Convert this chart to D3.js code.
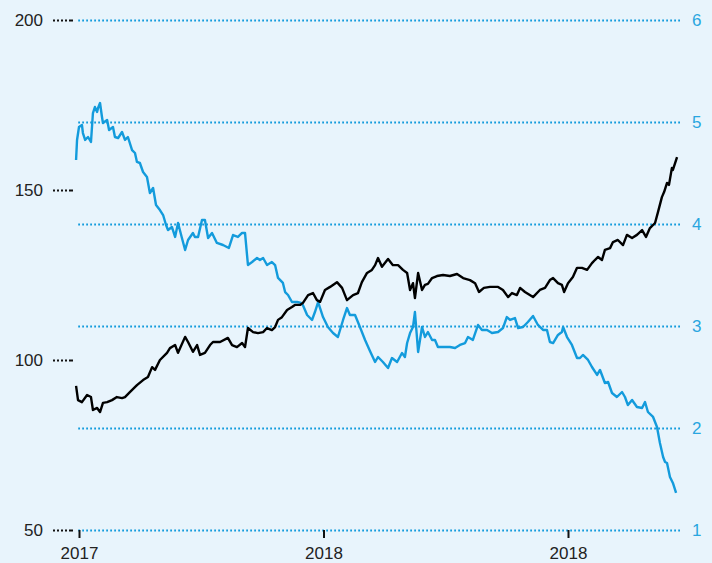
<!DOCTYPE html>
<html>
<head>
<meta charset="utf-8">
<script src="https://cdn.jsdelivr.net/npm/d3@7"></script>
<style>
  html, body { margin: 0; padding: 0; background: #e8f4fc; }
  svg { display: block; font-family: "Noto Sans", sans-serif; }
</style>
</head>
<body>
<svg id="chart" width="712" height="563"></svg>
<script>
// left axis (black series)
const leftTicks = [50, 100, 150, 200];
// right axis (blue series)
const rightTicks = [1, 2, 3, 4, 5, 6];
const xTickValues = [2017, 2018, 2019];
const xTickLabels = ["2017", "2018", "2018"];

// [decimal year, value]
const blackSeries = [
  [2016.988, 92.4], [2016.996, 88.2], [2017.012, 87.6], [2017.033, 89.7], [2017.049, 89.1],
  [2017.057, 85.3], [2017.074, 85.9], [2017.086, 84.7], [2017.098, 87.4], [2017.115, 87.6],
  [2017.135, 88.2], [2017.155, 89.1], [2017.176, 88.8], [2017.188, 89.1], [2017.209, 90.6],
  [2017.237, 92.6], [2017.262, 94.1], [2017.282, 95.0], [2017.299, 97.9], [2017.311, 97.1],
  [2017.331, 100.0], [2017.360, 102.1], [2017.372, 103.5], [2017.393, 104.4], [2017.405, 102.1],
  [2017.434, 106.8], [2017.446, 105.3], [2017.466, 102.4], [2017.483, 104.4], [2017.495, 101.5],
  [2017.515, 102.1], [2017.536, 104.4], [2017.548, 105.3], [2017.577, 105.3], [2017.609, 106.5],
  [2017.626, 104.4], [2017.646, 103.8], [2017.667, 105.0], [2017.679, 103.8], [2017.691, 109.4],
  [2017.712, 108.2], [2017.732, 107.9], [2017.753, 108.2], [2017.769, 109.4], [2017.789, 108.8],
  [2017.802, 109.7], [2017.814, 111.8], [2017.830, 112.6], [2017.851, 114.7], [2017.871, 115.6],
  [2017.883, 116.2], [2017.904, 116.2], [2017.916, 116.8], [2017.937, 119.1], [2017.957, 119.7],
  [2017.973, 117.6], [2017.986, 117.1], [2018.006, 120.6], [2018.027, 121.5], [2018.055, 122.9],
  [2018.076, 121.2], [2018.096, 117.6], [2018.121, 119.1], [2018.141, 119.7], [2018.157, 122.9],
  [2018.178, 125.6], [2018.198, 126.5], [2018.211, 127.9], [2018.223, 130.0], [2018.239, 127.4],
  [2018.264, 129.7], [2018.284, 127.9], [2018.305, 127.9], [2018.325, 126.5], [2018.342, 125.6],
  [2018.354, 120.6], [2018.366, 122.6], [2018.374, 118.2], [2018.387, 125.6], [2018.403, 120.6],
  [2018.415, 122.1], [2018.427, 122.4], [2018.444, 124.1], [2018.464, 124.7], [2018.489, 125.0],
  [2018.517, 124.7], [2018.546, 125.3], [2018.571, 124.1], [2018.599, 123.5], [2018.620, 122.6],
  [2018.636, 120.0], [2018.656, 121.2], [2018.681, 121.5], [2018.714, 121.5], [2018.734, 120.6],
  [2018.755, 118.5], [2018.771, 119.7], [2018.791, 119.1], [2018.804, 121.2], [2018.824, 120.0],
  [2018.857, 118.5], [2018.885, 120.6], [2018.906, 121.2], [2018.926, 123.5], [2018.939, 124.1],
  [2018.959, 122.6], [2018.975, 122.1], [2018.984, 120.0], [2019.000, 122.6], [2019.020, 124.4],
  [2019.037, 127.1], [2019.057, 127.1], [2019.078, 126.5], [2019.098, 128.5], [2019.110, 129.4],
  [2019.123, 130.3], [2019.139, 129.4], [2019.151, 132.4], [2019.172, 132.9], [2019.184, 134.7],
  [2019.204, 135.3], [2019.225, 133.8], [2019.241, 136.8], [2019.262, 135.9], [2019.282, 136.8],
  [2019.303, 138.2], [2019.319, 136.2], [2019.335, 138.8], [2019.356, 140.3], [2019.368, 143.5],
  [2019.384, 147.9], [2019.393, 149.4], [2019.405, 152.1], [2019.413, 151.5], [2019.425, 156.5],
  [2019.429, 155.9], [2019.446, 159.7]
];

const blueSeries = [
  [2016.988, 4.627], [2016.992, 4.824], [2017.000, 4.951], [2017.012, 4.971], [2017.016, 4.892],
  [2017.025, 4.824], [2017.037, 4.853], [2017.049, 4.804], [2017.057, 5.088], [2017.065, 5.147],
  [2017.074, 5.098], [2017.078, 5.137], [2017.086, 5.186], [2017.094, 5.049], [2017.098, 4.990],
  [2017.115, 5.020], [2017.123, 4.922], [2017.139, 4.951], [2017.147, 4.853], [2017.160, 4.843],
  [2017.176, 4.902], [2017.188, 4.824], [2017.200, 4.853], [2017.217, 4.725], [2017.229, 4.696],
  [2017.237, 4.608], [2017.249, 4.598], [2017.262, 4.510], [2017.278, 4.461], [2017.290, 4.304],
  [2017.303, 4.353], [2017.315, 4.186], [2017.331, 4.137], [2017.344, 4.088], [2017.356, 3.990],
  [2017.364, 3.941], [2017.380, 3.971], [2017.393, 3.873], [2017.405, 4.010], [2017.421, 3.863],
  [2017.434, 3.745], [2017.446, 3.843], [2017.466, 3.912], [2017.474, 3.873], [2017.487, 3.873],
  [2017.503, 4.039], [2017.515, 4.039], [2017.528, 3.863], [2017.544, 3.912], [2017.564, 3.814],
  [2017.589, 3.794], [2017.613, 3.765], [2017.630, 3.892], [2017.650, 3.873], [2017.667, 3.912],
  [2017.679, 3.912], [2017.691, 3.598], [2017.708, 3.627], [2017.728, 3.667], [2017.740, 3.647],
  [2017.753, 3.667], [2017.769, 3.598], [2017.789, 3.627], [2017.802, 3.598], [2017.814, 3.471],
  [2017.834, 3.422], [2017.843, 3.333], [2017.855, 3.304], [2017.871, 3.235], [2017.892, 3.235],
  [2017.912, 3.225], [2017.933, 3.108], [2017.953, 3.059], [2017.965, 3.137], [2017.978, 3.235],
  [2017.998, 3.088], [2018.018, 2.990], [2018.039, 2.931], [2018.059, 2.892], [2018.080, 3.059],
  [2018.096, 3.176], [2018.108, 3.108], [2018.129, 3.108], [2018.149, 2.990], [2018.170, 2.863],
  [2018.190, 2.755], [2018.211, 2.647], [2018.223, 2.696], [2018.243, 2.647], [2018.264, 2.588],
  [2018.280, 2.686], [2018.301, 2.647], [2018.321, 2.735], [2018.333, 2.696], [2018.342, 2.833],
  [2018.354, 2.931], [2018.366, 2.990], [2018.374, 3.137], [2018.387, 2.745], [2018.403, 2.990],
  [2018.415, 2.892], [2018.427, 2.941], [2018.444, 2.863], [2018.456, 2.863], [2018.468, 2.794],
  [2018.489, 2.794], [2018.517, 2.794], [2018.538, 2.784], [2018.558, 2.814], [2018.579, 2.833],
  [2018.591, 2.892], [2018.611, 2.863], [2018.632, 3.010], [2018.648, 2.961], [2018.669, 2.961],
  [2018.689, 2.931], [2018.714, 2.941], [2018.734, 2.980], [2018.750, 3.088], [2018.763, 3.059],
  [2018.783, 3.078], [2018.796, 2.980], [2018.816, 2.990], [2018.836, 3.039], [2018.857, 3.098],
  [2018.877, 3.010], [2018.898, 2.961], [2018.914, 2.961], [2018.926, 2.843], [2018.939, 2.833],
  [2018.959, 2.912], [2018.975, 2.941], [2018.980, 2.990], [2018.996, 2.892], [2019.016, 2.814],
  [2019.037, 2.686], [2019.049, 2.686], [2019.061, 2.716], [2019.082, 2.667], [2019.098, 2.598],
  [2019.119, 2.520], [2019.131, 2.569], [2019.151, 2.441], [2019.164, 2.451], [2019.180, 2.343],
  [2019.200, 2.304], [2019.221, 2.353], [2019.233, 2.304], [2019.245, 2.225], [2019.262, 2.275],
  [2019.282, 2.206], [2019.303, 2.196], [2019.315, 2.255], [2019.327, 2.157], [2019.348, 2.108],
  [2019.364, 2.010], [2019.376, 1.853], [2019.389, 1.716], [2019.397, 1.667], [2019.405, 1.657],
  [2019.417, 1.520], [2019.429, 1.461], [2019.442, 1.363]
];

const BLUE = "#139bdc";
const BLUE_TEXT = "#29a6e0";

const svg = d3.select("#chart");

const x = d3.scaleLinear().domain([2017, 2019]).range([79, 568]);
const yLeft = d3.scaleLinear().domain([50, 200]).range([530, 20]);
const yRight = d3.scaleLinear().domain([1, 6]).range([530, 20]);

// blue dotted gridlines + right labels
const rightAxis = svg.append("g")
  .attr("transform", "translate(680,0)")
  .call(d3.axisRight(yRight).tickValues(rightTicks).tickSizeInner(-602).tickSizeOuter(0).tickPadding(12).tickFormat(d3.format("d")));
rightAxis.select(".domain").remove();
rightAxis.selectAll("line")
  .attr("stroke", BLUE)
  .attr("stroke-width", 1.8)
  .attr("stroke-dasharray", "1.8,2.2");
rightAxis.selectAll("text")
  .attr("fill", BLUE_TEXT)
  .attr("font-size", 17);

// left axis
const leftAxis = svg.append("g")
  .attr("transform", "translate(73,0)")
  .call(d3.axisLeft(yLeft).tickValues(leftTicks).tickSizeInner(21).tickSizeOuter(0).tickPadding(9).tickFormat(d3.format("d")));
leftAxis.select(".domain").remove();
leftAxis.selectAll("line")
  .attr("stroke", "#111")
  .attr("stroke-width", 1.8)
  .attr("stroke-dasharray", "4,2,2,2,2,2,2,2,2,2");
leftAxis.selectAll("text")
  .attr("fill", "#222")
  .attr("font-size", 17);

// bottom axis
const bottomAxis = svg.append("g")
  .attr("transform", "translate(0,530)")
  .call(d3.axisBottom(x).tickValues(xTickValues).tickSizeInner(8).tickSizeOuter(0).tickPadding(9)
    .tickFormat((d, i) => xTickLabels[i]));
bottomAxis.select(".domain").remove();
bottomAxis.selectAll("line")
  .attr("stroke", "#111")
  .attr("stroke-width", 2);
bottomAxis.selectAll("text")
  .attr("fill", "#222")
  .attr("font-size", 17);

const blueLine = d3.line()
  .x((d) => x(d[0]))
  .y((d) => yRight(d[1]));
const blackLine = d3.line()
  .x((d) => x(d[0]))
  .y((d) => yLeft(d[1]));

svg.append("path")
  .datum(blueSeries)
  .attr("d", blueLine)
  .attr("fill", "none")
  .attr("stroke", BLUE)
  .attr("stroke-width", 2.4)
  .attr("stroke-linejoin", "round");

svg.append("path")
  .datum(blackSeries)
  .attr("d", blackLine)
  .attr("fill", "none")
  .attr("stroke", "#000")
  .attr("stroke-width", 2.4)
  .attr("stroke-linejoin", "round");
</script>
</body>
</html>
